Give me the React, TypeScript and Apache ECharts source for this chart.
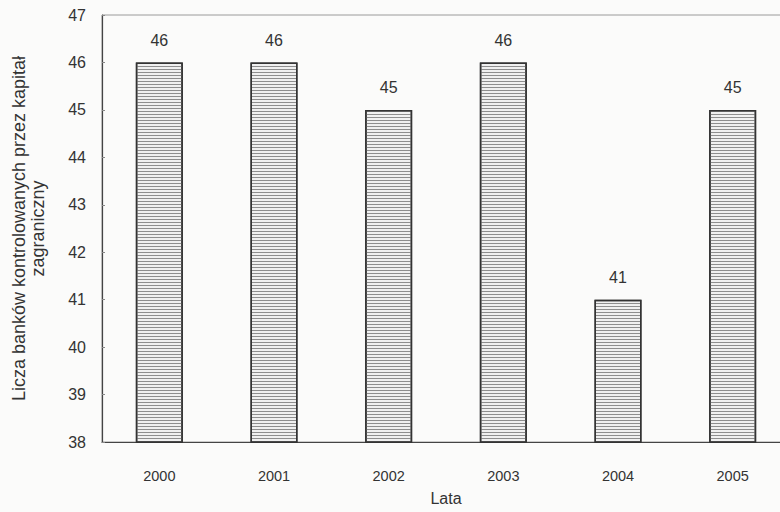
import React, { useEffect, useRef } from "react";
import * as echarts from "echarts";

const years = ["2000", "2001", "2002", "2003", "2004", "2005"];
const banks = [46, 46, 45, 46, 41, 45];
const yTicks = { min: 38, max: 47, interval: 1 };
const yName = "Licza banków kontrolowanych przez kapitał\nzagraniczny";
const xName = "Lata";

export default function App() {
  const ref = useRef<HTMLDivElement>(null);
  useEffect(() => {
    const chart = echarts.init(ref.current!, null, { renderer: "svg" });
    chart.setOption({
      animation: false,
      backgroundColor: "#fbfbfa",
      textStyle: { fontFamily: "Liberation Sans, Arial, sans-serif" },
      grid: {
        left: 102,
        right: 0,
        top: 15,
        bottom: 70,
        outerBoundsMode: "none",
        containLabel: false,
        show: true,
        borderColor: "#9a9a9a",
        borderWidth: 1,
      },
      xAxis: {
        type: "category",
        data: years,
        name: xName,
        nameLocation: "middle",
        nameGap: 48,
        nameTextStyle: { fontSize: 16, color: "#333" },
        axisLine: { lineStyle: { color: "#444", width: 1.2 } },
        axisTick: { show: false },
        axisLabel: { fontSize: 14.5, color: "#333", margin: 26 },
      },
      yAxis: {
        type: "value",
        min: yTicks.min,
        max: yTicks.max,
        interval: yTicks.interval,
        name: yName,
        nameLocation: "middle",
        nameGap: 55,
        nameTextStyle: { fontSize: 18, color: "#333", lineHeight: 19 },
        axisLine: { show: true, lineStyle: { color: "#444", width: 1.2 } },
        axisTick: { show: true, inside: true, length: 3, lineStyle: { color: "#888" } },
        axisLabel: { fontSize: 16, color: "#333", margin: 16 },
        splitLine: { show: false },
      },
      series: [
        {
          type: "bar",
          data: banks,
          barWidth: 47,
          itemStyle: {
            color: "#f0f0f0",
            borderColor: "#333",
            borderWidth: 1.5,
            decal: {
              symbol: "rect",
              symbolSize: 1,
              dashArrayX: [[1, 0]],
              dashArrayY: [1, 2],
              color: "#8e8e8e",
              rotation: 0,
            },
          },
          label: {
            show: true,
            position: "top",
            distance: 14,
            fontSize: 16,
            color: "#333",
          },
        },
      ],
    });
    return () => chart.dispose();
  }, []);
  return (
    <div
      style={{
        position: "absolute",
        left: 0,
        top: 0,
        width: 780,
        height: 512,
        overflow: "hidden",
      }}
    >
      <div ref={ref} style={{ width: 790, height: 512 }} />
    </div>
  );
}
